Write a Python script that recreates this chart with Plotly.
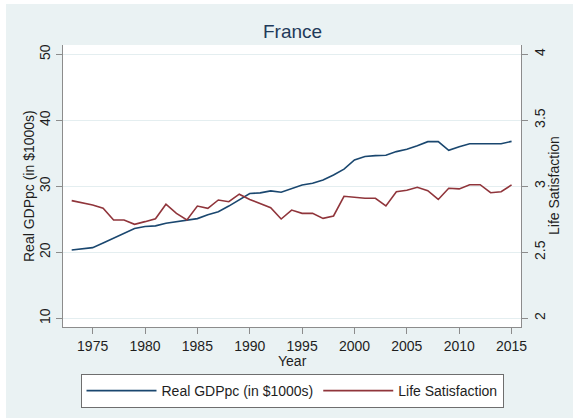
import plotly.graph_objects as go

years = list(range(1973, 2016))
gdp = [20.35, 20.5, 20.7, 21.4, 22.1, 22.9, 23.6, 23.9, 24.0, 24.4,
       24.6, 24.9, 25.1, 25.7, 26.15, 27.0, 28.0, 28.9, 29.0, 29.3,
       29.1, 29.7, 30.2, 30.45, 30.95, 31.7, 32.6, 33.98, 34.5, 34.64,
       34.7, 35.25, 35.6, 36.15, 36.76, 36.76, 35.45, 36.0, 36.45, 36.45,
       36.45, 36.45, 36.8]
life = [2.891, 2.876, 2.858, 2.833, 2.745, 2.745, 2.712, 2.732, 2.754, 2.864,
        2.795, 2.745, 2.85, 2.833, 2.896, 2.883, 2.94, 2.90, 2.871, 2.838,
        2.752, 2.82, 2.795, 2.795, 2.757, 2.775, 2.924, 2.917, 2.909, 2.909,
        2.851, 2.959, 2.97, 2.992, 2.967, 2.90, 2.985, 2.98, 3.012, 3.012,
        2.951, 2.959, 3.01]

x_ticks = [1975, 1980, 1985, 1990, 1995, 2000, 2005, 2010, 2015]
y1_ticks = [10, 20, 30, 40, 50]
y2_ticks = [2, 2.5, 3, 3.5, 4]
y2_labels = ["2", "2.5", "3", "3.5", "4"]

NAVY = "#1a476f"
MAROON = "#90353b"
BG = "#eaf2f3"
GRID = "#e4eef0"
AXIS = "#8c8c8c"
TXT = "#1e1e1e"
FONT = "Liberation Sans, Arial, sans-serif"

fig = go.Figure()
fig.add_trace(go.Scatter(x=years, y=gdp, mode="lines", name="Real GDPpc (in $1000s)",
                         line=dict(color=NAVY, width=1.6), yaxis="y"))
fig.add_trace(go.Scatter(x=years, y=life, mode="lines", name="Life Satisfaction",
                         line=dict(color=MAROON, width=1.6), yaxis="y2"))

W, H = 573, 418
L, R, T, B = 63, 52, 45, 91
pw, ph = W - L - R, H - T - B

def px_x(p):
    return (p - L) / pw

def px_y(p):
    return (H - B - p) / ph

ann = [
    dict(text="France", x=px_x(292), y=px_y(31), xref="paper", yref="paper",
         xanchor="center", yanchor="middle", showarrow=False,
         font=dict(size=19, color="#1f3a5a", family=FONT)),
    dict(text="Year", x=px_x(292), y=px_y(361), xref="paper", yref="paper",
         xanchor="center", yanchor="middle", showarrow=False,
         font=dict(size=14, color=TXT, family=FONT)),
    dict(text="Real GDPpc (in $1000s)", x=px_x(29), y=px_y(186), xref="paper", yref="paper",
         xanchor="center", yanchor="middle", showarrow=False, textangle=-90,
         font=dict(size=14, color=TXT, family=FONT)),
    dict(text="Life Satisfaction", x=px_x(554), y=px_y(186), xref="paper", yref="paper",
         xanchor="center", yanchor="middle", showarrow=False, textangle=-90,
         font=dict(size=14, color=TXT, family=FONT)),
]

fig.update_layout(
    width=W, height=H,
    margin=dict(l=L, r=R, t=T, b=B, pad=0, autoexpand=False),
    paper_bgcolor=BG,
    plot_bgcolor="white",
    font=dict(family=FONT, size=14, color=TXT),
    annotations=ann,
    shapes=[
        dict(type="rect", xref="paper", yref="paper", layer="above",
             x0=px_x(-5), x1=px_x(W + 5), y0=px_y(4), y1=px_y(-5),
             fillcolor="white", line=dict(width=0)),
        dict(type="rect", xref="paper", yref="paper", layer="above",
             x0=px_x(-5), x1=px_x(6), y0=px_y(H + 5), y1=px_y(-5),
             fillcolor="white", line=dict(width=0)),
    ],
    xaxis=dict(range=[1972.17, 2015.9], tickvals=x_ticks, ticks="outside", ticklen=6,
               tickcolor=AXIS, showline=True, linecolor=AXIS, linewidth=1.2,
               showgrid=False, zeroline=False, tickfont=dict(size=14),
               automargin=False),
    yaxis=dict(range=[8.68, 51.4], tickvals=y1_ticks, ticks="outside", ticklen=6,
               tickcolor=AXIS, showline=True, linecolor=AXIS, linewidth=1.2,
               showgrid=True, gridcolor=GRID, gridwidth=1.2, zeroline=False,
               tickangle=-90, tickfont=dict(size=14), automargin=False),
    yaxis2=dict(range=[1.934, 4.07], tickvals=y2_ticks, ticktext=y2_labels,
                overlaying="y", side="right", ticks="outside", ticklen=6,
                tickcolor=AXIS, showline=True, linecolor=AXIS, linewidth=1.2,
                showgrid=False, zeroline=False, tickangle=-90, tickfont=dict(size=14),
                automargin=False),
    legend=dict(orientation="h", x=0.5, xanchor="center", y=px_y(374), yanchor="top",
                bgcolor="white", bordercolor="#6e6e6e", borderwidth=1,
                font=dict(size=14, color=TXT), itemwidth=70,
                traceorder="normal"),
    showlegend=True,
)

fig.write_html("out.html", config={"displayModeBar": False},
               post_script="document.body.style.margin='0';document.body.style.overflow='hidden';")
